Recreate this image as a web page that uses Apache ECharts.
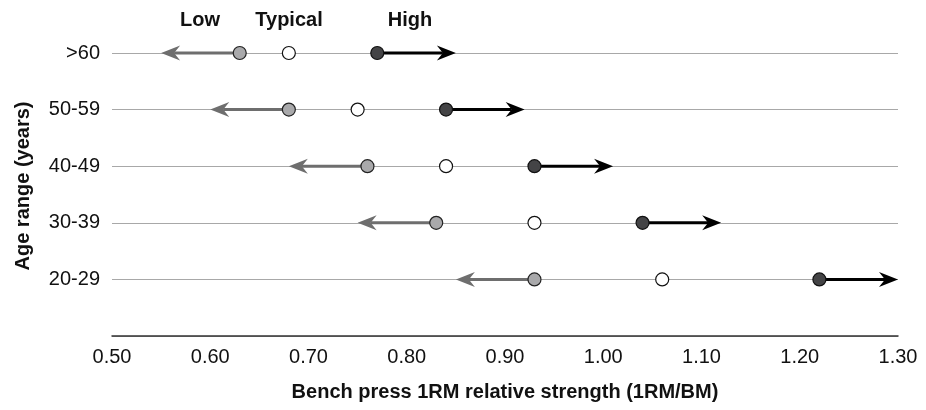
<!DOCTYPE html>
<html>
<head>
<meta charset="utf-8">
<style>
  html, body { margin: 0; padding: 0; background: #fff; }
  #chart { width: 926px; height: 410px; }
</style>
<script src="https://cdn.jsdelivr.net/npm/echarts@6/dist/echarts.min.js"></script>
</head>
<body>
<div id="chart"></div>
<script>
// Age groups, bottom to top
const ageGroups = ['20-29', '30-39', '40-49', '50-59', '>60'];
// Relative bench press strength (1RM / body mass) per age group
const lowValues     = [0.93, 0.83, 0.76, 0.68, 0.63];
const typicalValues = [1.06, 0.93, 0.84, 0.75, 0.68];
const highValues    = [1.22, 1.04, 0.93, 0.84, 0.77];
// Where each arrow ends
const lowArrowEnds  = [0.85, 0.75, 0.68, 0.60, 0.55];
const highArrowEnds = [1.30, 1.12, 1.01, 0.92, 0.85];
const xTicks = ['0.50', '0.60', '0.70', '0.80', '0.90', '1.00', '1.10', '1.20', '1.30'];
const legendLabels = ['Low', 'Typical', 'High'];

const FONT = '"Liberation Sans", Arial, Helvetica, sans-serif';

const toPoints = vals => vals.map((v, i) => [v, i + 1]);
const toArrows = (starts, ends) => starts.map((v, i) => [v, ends[i], i + 1]);

function arrowRenderer(color) {
  return function (params, api) {
    const p0 = api.coord([api.value(0), api.value(2)]);
    const p1 = api.coord([api.value(1), api.value(2)]);
    const dir = p1[0] > p0[0] ? 1 : -1;
    const headLen = 19, headHalf = 7.5, notch = 6;
    const tip = p1;
    const baseX = tip[0] - dir * headLen;
    return {
      type: 'group',
      children: [
        {
          type: 'line',
          shape: { x1: p0[0], y1: p0[1], x2: tip[0] - dir * (headLen - notch), y2: p0[1] },
          style: { stroke: color, lineWidth: 3 }
        },
        {
          type: 'polygon',
          shape: {
            points: [
              [tip[0], tip[1]],
              [baseX, tip[1] - headHalf],
              [baseX + dir * notch, tip[1]],
              [baseX, tip[1] + headHalf]
            ]
          },
          style: { fill: color }
        }
      ]
    };
  };
}

const headerText = (text, x) => ({
  type: 'text', x: x, y: 20,
  style: { text: text, fontFamily: FONT, fontSize: 20, fontWeight: 'bold', fill: '#111', align: 'center', verticalAlign: 'middle' }
});

const chart = echarts.init(document.getElementById('chart'), null, { renderer: 'canvas' });

chart.setOption({
  animation: false,
  backgroundColor: '#ffffff',
  textStyle: { fontFamily: FONT },
  grid: { left: 112, right: 28, top: 53, bottom: 74 },
  xAxis: {
    type: 'value',
    min: 0.5,
    max: 1.3,
    interval: 0.1,
    name: 'Bench press 1RM relative strength (1RM/BM)',
    nameLocation: 'middle',
    nameGap: 46,
    nameTextStyle: { fontFamily: FONT, fontSize: 20, fontWeight: 'bold', color: '#111' },
    axisLine: { show: true, lineStyle: { color: '#333', width: 1.5 } },
    axisTick: { show: false },
    splitLine: { show: false },
    axisLabel: {
      fontFamily: FONT, fontSize: 20, color: '#111', margin: 11,
      formatter: v => xTicks[Math.round((v - 0.5) * 10)]
    }
  },
  yAxis: {
    type: 'value',
    min: 0,
    max: 5,
    interval: 1,
    axisLine: { show: false },
    axisTick: { show: false },
    splitLine: { show: true, lineStyle: { color: '#a8a8a8', width: 1 } },
    axisLabel: {
      fontFamily: FONT, fontSize: 20, color: '#111', margin: 12,
      formatter: v => (v >= 1 ? ageGroups[v - 1] : '')
    }
  },
  graphic: [
    headerText(legendLabels[0], 200),
    headerText(legendLabels[1], 289),
    headerText(legendLabels[2], 410),
    {
      type: 'text', x: 23, y: 186, rotation: Math.PI / 2,
      style: { text: 'Age range (years)', fontFamily: FONT, fontSize: 20, fontWeight: 'bold', fill: '#111', align: 'center', verticalAlign: 'middle' }
    }
  ],
  series: [
    {
      name: 'Low arrow',
      type: 'custom',
      renderItem: arrowRenderer('#6e6e6e'),
      data: toArrows(lowValues, lowArrowEnds),
      z: 2
    },
    {
      name: 'High arrow',
      type: 'custom',
      renderItem: arrowRenderer('#000000'),
      data: toArrows(highValues, highArrowEnds),
      z: 2
    },
    {
      name: 'Low',
      type: 'scatter',
      symbolSize: 13,
      itemStyle: { color: '#a9a9ab', borderColor: '#222', borderWidth: 1.2, opacity: 1 },
      data: toPoints(lowValues),
      z: 5
    },
    {
      name: 'Typical',
      type: 'scatter',
      symbolSize: 13,
      itemStyle: { color: '#ffffff', borderColor: '#111', borderWidth: 1.2, opacity: 1 },
      data: toPoints(typicalValues),
      z: 5
    },
    {
      name: 'High',
      type: 'scatter',
      symbolSize: 13,
      itemStyle: { color: '#444446', borderColor: '#111', borderWidth: 1.2, opacity: 1 },
      data: toPoints(highValues),
      z: 5
    }
  ]
});
</script>
</body>
</html>
